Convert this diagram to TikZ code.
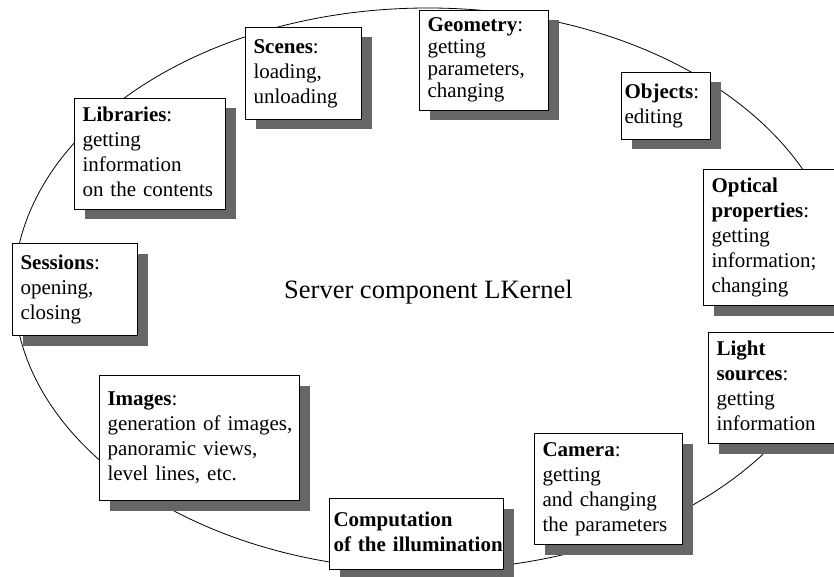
\documentclass[tikz,border=0pt]{standalone}
\usepackage{fontspec}
\setmainfont{Liberation Serif}
\usetikzlibrary{shadows}
\newcommand\kblines[1]{\begin{tabular}{@{}l@{}}#1\end{tabular}}
\tikzset{
  kbox/.style={draw, line width=1pt, fill=white, rectangle, anchor=north west,
    inner xsep=8pt, inner ysep=0pt, align=left,
    font=\fontsize{21}{25}\selectfont,
    drop shadow={shadow xshift=10pt, shadow yshift=-10pt, fill=black!60, opacity=1}},
  ring/.style={line width=0.8pt},
}
\begin{document}
\begin{tikzpicture}[x=1pt,y=-1pt]
\clip (0,0) rectangle (834,577);
\fill[white] (0,0) rectangle (834,577);
\draw[ring] (428,289) ellipse [x radius=414pt, y radius=281pt];
\node[anchor=base west, inner sep=0pt, font=\fontsize{26.5}{30}\selectfont] (title) at (284,298) {Server component LKernel};
\node[kbox, minimum width=116pt, minimum height=92pt, text width=100pt] (scenes) at (245,27) {\kblines{\textbf{Scenes}:\\loading,\\unloading}};
\node[kbox, minimum width=151pt, minimum height=111pt, text width=135pt] (libraries) at (74,98) {\kblines{\textbf{Libraries}:\\getting\\information\\on the contents}};
\node[kbox, minimum width=125pt, minimum height=92pt, text width=109pt] (sessions) at (12,243) {\kblines{\textbf{Sessions}:\\opening,\\closing}};
\node[kbox, minimum width=200pt, minimum height=125pt, text width=184pt] (images) at (99,375) {\kblines{\textbf{Images}:\\generation of images,\\panoramic views,\\level lines, etc.}};
\node[kbox, inner xsep=4pt, minimum width=174pt, minimum height=71pt, text width=166pt] (computation) at (329,498) {\kblines{\textbf{Computation}\\\textbf{of the illumination}}};
\node[kbox, minimum width=148pt, minimum height=111pt, text width=132pt] (camera) at (534,433) {\kblines{\textbf{Camera}:\\getting\\and changing\\the parameters}};
\node[kbox, minimum width=142pt, minimum height=111pt, text width=126pt] (light) at (708,332) {\kblines{\textbf{Light}\\\textbf{sources}:\\getting\\information}};
\node[kbox, drop shadow={shadow xshift=24pt, shadow yshift=-10pt, fill=black!60, opacity=1}, minimum width=147pt, minimum height=136pt, text width=131pt] (optical) at (703,169) {\kblines{\textbf{Optical}\\\textbf{properties}:\\getting\\information;\\changing}};
\node[kbox, inner xsep=3pt, minimum width=89pt, minimum height=67pt, text width=83pt] (objects) at (621,72) {\kblines{\textbf{Objects}:\\editing}};
\node[kbox, font=\fontsize{21}{22}\selectfont, minimum width=129pt, minimum height=100pt, text width=113pt] (geometry) at (419,10) {\kblines{\textbf{Geometry}:\\getting\\parameters,\\changing}};
\end{tikzpicture}
\end{document}
